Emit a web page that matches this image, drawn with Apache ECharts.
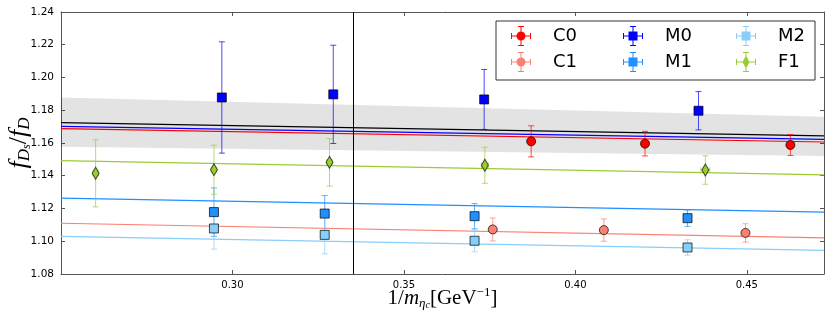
<!DOCTYPE html>
<html>
<head>
<meta charset="utf-8">
<script src="https://cdn.jsdelivr.net/npm/echarts@6/dist/echarts.min.js"></script>
<style>
  html, body { margin: 0; padding: 0; background: #fff; }
  #chart { width: 831px; height: 325px; }
</style>
</head>
<body>
<div id="chart"></div>
<script>
// axis ticks
const xTicks = [0.30, 0.35, 0.40, 0.45];
const yTicks = [1.08, 1.10, 1.12, 1.14, 1.16, 1.18, 1.20, 1.22, 1.24];
const xRange = [0.25, 0.4725];
const physPoint = 0.3352; // vertical line (physical eta_c)

// data points: x, y, y error, x error
const c0X = [0.3871, 0.4203, 0.4627];
const c0Y = [1.1610, 1.1596, 1.1588];
const c0Err = [0.0095, 0.0075, 0.0064];
const c0XErr = [0.0008, 0.0008, 0.0008];

const c1X = [0.3759, 0.4083, 0.4496];
const c1Y = [1.1072, 1.1068, 1.1051];
const c1Err = [0.0070, 0.0068, 0.0056];
const c1XErr = [0.0008, 0.0008, 0.0008];

const m0X = [0.2969, 0.3294, 0.3734, 0.4359];
const m0Y = [1.1878, 1.1897, 1.1866, 1.1797];
const m0Err = [0.0340, 0.0300, 0.0183, 0.0117];
const m0XErr = [0.0008, 0.0008, 0.0008, 0.0008];

const m1X = [0.2946, 0.3269, 0.3706, 0.4327];
const m1Y = [1.1178, 1.1169, 1.1153, 1.1141];
const m1Err = [0.0148, 0.0110, 0.0077, 0.0050];
const m1XErr = [0.0008, 0.0008, 0.0008, 0.0010];

const m2X = [0.2946, 0.3269, 0.3706, 0.4327];
const m2Y = [1.1078, 1.1039, 1.1003, 1.0962];
const m2Err = [0.0126, 0.0116, 0.0067, 0.0047];
const m2XErr = [0.0008, 0.0008, 0.0008, 0.0010];

const f1X = [0.2601, 0.2946, 0.3283, 0.3736, 0.4379];
const f1Y = [1.1415, 1.1437, 1.1482, 1.1464, 1.1435];
const f1Err = [0.0205, 0.0150, 0.0145, 0.0110, 0.0087];
const f1XErr = [0.0008, 0.0008, 0.0008, 0.0010, 0.0013];

// fit lines, value at left and right edge
const fitX = [0.25, 0.4725];
const fitCentral = [1.1725, 1.1644];
const bandLow = [1.1577, 1.1521];
const bandHigh = [1.1878, 1.1760];
const fitM0 = [1.1702, 1.1622];
const fitC0 = [1.1688, 1.1606];
const fitF1 = [1.1492, 1.1405];
const fitM1 = [1.1263, 1.1178];
const fitC1 = [1.1110, 1.1021];
const fitM2 = [1.1030, 1.0944];

const groups = [
  { name: 'C0', color: '#ff0000', x: c0X, y: c0Y, err: c0Err, xerr: c0XErr, fit: fitC0, symbol: 'circle', size: 9 },
  { name: 'C1', color: '#fa8072', x: c1X, y: c1Y, err: c1Err, xerr: c1XErr, fit: fitC1, symbol: 'circle', size: 9 },
  { name: 'M0', color: '#0000ff', x: m0X, y: m0Y, err: m0Err, xerr: m0XErr, fit: fitM0, symbol: 'rect', size: 9 },
  { name: 'M1', color: '#1e90ff', x: m1X, y: m1Y, err: m1Err, xerr: m1XErr, fit: fitM1, symbol: 'rect', size: 9 },
  { name: 'M2', color: '#87cefa', x: m2X, y: m2Y, err: m2Err, xerr: m2XErr, fit: fitM2, symbol: 'rect', size: 9 },
  { name: 'F1', color: '#9acd32', x: f1X, y: f1Y, err: f1Err, xerr: f1XErr, fit: fitF1, symbol: 'diamond', size: [7, 12] }
];

// legend icons: marker with error-bar cross
const cross = 'M0 9.5H20V10.5H0Z M9.5 0H10.5V20H9.5Z M7 0H13V1H7Z M7 19H13V20H7Z M0 7H1V13H0Z M19 7H20V13H19Z ';
const icons = {
  circle: 'path://' + cross + 'M14.5 10A4.5 4.5 0 1 1 5.5 10A4.5 4.5 0 1 1 14.5 10Z',
  rect: 'path://' + cross + 'M5.5 5.5H14.5V14.5H5.5Z',
  diamond: 'path://' + cross + 'M10 3.5L13.5 10L10 16.5L6.5 10Z'
};

function errorBars(params, api) {
  const x = api.value(0), y = api.value(1), ey = api.value(2), ex = api.value(3);
  const top = api.coord([x, y + ey]);
  const bot = api.coord([x, y - ey]);
  const l = api.coord([x - ex, y]);
  const r = api.coord([x + ex, y]);
  const st = { stroke: api.visual('color'), lineWidth: 1, opacity: 0.7 };
  const cap = 3;
  return {
    type: 'group',
    children: [
      { type: 'line', shape: { x1: top[0], y1: top[1], x2: bot[0], y2: bot[1] }, style: st },
      { type: 'line', shape: { x1: top[0] - cap, y1: top[1], x2: top[0] + cap, y2: top[1] }, style: st },
      { type: 'line', shape: { x1: bot[0] - cap, y1: bot[1], x2: bot[0] + cap, y2: bot[1] }, style: st },
      { type: 'line', shape: { x1: l[0], y1: l[1], x2: r[0], y2: r[1] }, style: st },
      { type: 'line', shape: { x1: l[0], y1: l[1] - cap, x2: l[0], y2: l[1] + cap }, style: st },
      { type: 'line', shape: { x1: r[0], y1: r[1] - cap, x2: r[0], y2: r[1] + cap }, style: st }
    ]
  };
}

function band(params, api) {
  const p1 = api.coord([api.value(0), api.value(2)]);
  const p2 = api.coord([api.value(1), api.value(4)]);
  const p3 = api.coord([api.value(1), api.value(5)]);
  const p4 = api.coord([api.value(0), api.value(3)]);
  return {
    type: 'polygon',
    shape: { points: [p1, p2, p3, p4] },
    style: { fill: 'rgba(0,0,0,0.11)' }
  };
}

const series = [];
series.push({
  type: 'custom', name: 'band', renderItem: band, silent: true, z: 1,
  encode: { x: [0, 1], y: [2, 3, 4, 5] },
  data: [[fitX[0], fitX[1], bandLow[0], bandHigh[0], bandLow[1], bandHigh[1]]]
});
series.push({
  type: 'line', name: 'fit', data: fitX.map((v, i) => [v, fitCentral[i]]),
  showSymbol: false, silent: true, z: 3,
  lineStyle: { color: '#000', width: 1.2 },
  markLine: {
    silent: true, symbol: 'none', precision: 4, label: { show: false },
    lineStyle: { color: '#000', width: 1, type: 'solid' },
    data: [{ xAxis: physPoint }]
  }
});
groups.slice().reverse().forEach(g => {
  series.push({
    type: 'line', name: g.name + ' fit', data: fitX.map((v, i) => [v, g.fit[i]]),
    showSymbol: false, silent: true, z: 2,
    lineStyle: { color: g.color, width: 1.2 }
  });
});
groups.forEach(g => {
  series.push({
    type: 'scatter', name: g.name, symbol: g.symbol, symbolSize: g.size, z: 6,
    itemStyle: { color: g.color, borderColor: 'rgba(0,0,0,0.7)', borderWidth: 1, opacity: 1 },
    data: g.x.map((v, i) => [v, g.y[i]])
  });
  series.push({
    type: 'custom', name: g.name + ' err', renderItem: errorBars, z: 4,
    itemStyle: { color: g.color },
    encode: { x: 0, y: 1 },
    data: g.x.map((v, i) => [v, g.y[i], g.err[i], g.xerr[i]])
  });
});

const legendBase = {
  orient: 'vertical', top: 21, itemGap: 6, itemWidth: 20, itemHeight: 20,
  selectedMode: false,
  itemStyle: { borderWidth: 0 },
  textStyle: { fontSize: 18, fontFamily: 'DejaVu Sans', color: '#000', padding: [0, 0, 0, 17] }
};
const legendData = name => {
  const g = groups.find(d => d.name === name);
  return { name: name, icon: icons[g.symbol] };
};

const axisColor = '#555';
const chart = echarts.init(document.getElementById('chart'));
chart.setOption({
  animation: false,
  backgroundColor: '#fff',
  grid: { left: 61, right: 7, top: 12, bottom: 51, containLabel: false, outerBoundsMode: 'none' },
  legend: [
    Object.assign({}, legendBase, { left: 506, data: ['C0', 'C1'].map(legendData) }),
    Object.assign({}, legendBase, { left: 618, data: ['M0', 'M1'].map(legendData) }),
    Object.assign({}, legendBase, { left: 731, data: ['M2', 'F1'].map(legendData) })
  ],
  graphic: [{
    type: 'rect', z: 1, shape: { x: 496, y: 21, width: 319, height: 59 },
    style: { fill: '#fff', stroke: '#333', lineWidth: 1 }
  }],
  xAxis: [{
    type: 'value', min: xRange[0], max: xRange[1], interval: xTicks[1] - xTicks[0],
    axisLine: { lineStyle: { color: axisColor, width: 1 } },
    axisTick: { inside: true, length: 4, lineStyle: { color: axisColor } },
    axisLabel: {
      showMinLabel: false, showMaxLabel: false, margin: 6,
      formatter: v => v.toFixed(2), color: '#000', fontSize: 10, fontFamily: 'DejaVu Sans'
    },
    splitLine: { show: false },
    name: '{n|1/}{i|m}{s|η}{ss|c}{n|[GeV}{sup|−1}{n|]}',
    nameLocation: 'middle', nameGap: 12, nameMoveOverlap: false,
    nameTextStyle: {
      rich: {
        n: { fontFamily: 'Liberation Serif', fontSize: 21, color: '#000', lineHeight: 24 },
        i: { fontFamily: 'Liberation Serif', fontStyle: 'italic', fontSize: 21, color: '#000', lineHeight: 24 },
        s: { fontFamily: 'Liberation Serif', fontStyle: 'italic', fontSize: 13, color: '#000', lineHeight: 10, verticalAlign: 'bottom' },
        ss: { fontFamily: 'Liberation Serif', fontStyle: 'italic', fontSize: 10, color: '#000', lineHeight: 2, verticalAlign: 'bottom' },
        sup: { fontFamily: 'Liberation Serif', fontSize: 13, color: '#000', lineHeight: 10, verticalAlign: 'top' }
      }
    }
  }, {
    type: 'value', position: 'top', min: xRange[0], max: xRange[1], interval: xTicks[1] - xTicks[0],
    axisLine: { lineStyle: { color: axisColor, width: 1 } },
    axisTick: { inside: true, length: 4, lineStyle: { color: axisColor } },
    axisLabel: { show: false }, splitLine: { show: false }
  }],
  yAxis: [{
    type: 'value', min: yTicks[0], max: yTicks[yTicks.length - 1], interval: yTicks[1] - yTicks[0],
    axisLine: { show: true, lineStyle: { color: axisColor, width: 1 } },
    axisTick: { show: true, inside: true, length: 4, lineStyle: { color: axisColor } },
    axisLabel: { formatter: v => v.toFixed(2), color: '#000', fontSize: 10.5, fontFamily: 'DejaVu Sans', margin: 7 },
    splitLine: { show: false },
    name: '{i|f}{s|D}{ss|s}{n|/}{i|f}{s|D}',
    nameLocation: 'middle', nameGap: 28, nameRotate: 90, nameMoveOverlap: false,
    nameTextStyle: {
      rich: {
        n: { fontFamily: 'Liberation Serif', fontSize: 26, color: '#000', lineHeight: 28 },
        i: { fontFamily: 'Liberation Serif', fontStyle: 'italic', fontSize: 26, color: '#000', lineHeight: 28 },
        s: { fontFamily: 'Liberation Serif', fontStyle: 'italic', fontSize: 17, color: '#000', lineHeight: 12, verticalAlign: 'bottom' },
        ss: { fontFamily: 'Liberation Serif', fontStyle: 'italic', fontSize: 12, color: '#000', lineHeight: 2, verticalAlign: 'bottom' }
      }
    }
  }, {
    type: 'value', position: 'right', min: yTicks[0], max: yTicks[yTicks.length - 1], interval: yTicks[1] - yTicks[0],
    axisLine: { show: true, lineStyle: { color: axisColor, width: 1 } },
    axisTick: { show: true, inside: true, length: 4, lineStyle: { color: axisColor } },
    axisLabel: { show: false }, splitLine: { show: false }
  }],
  series: series
});
</script>
</body>
</html>
